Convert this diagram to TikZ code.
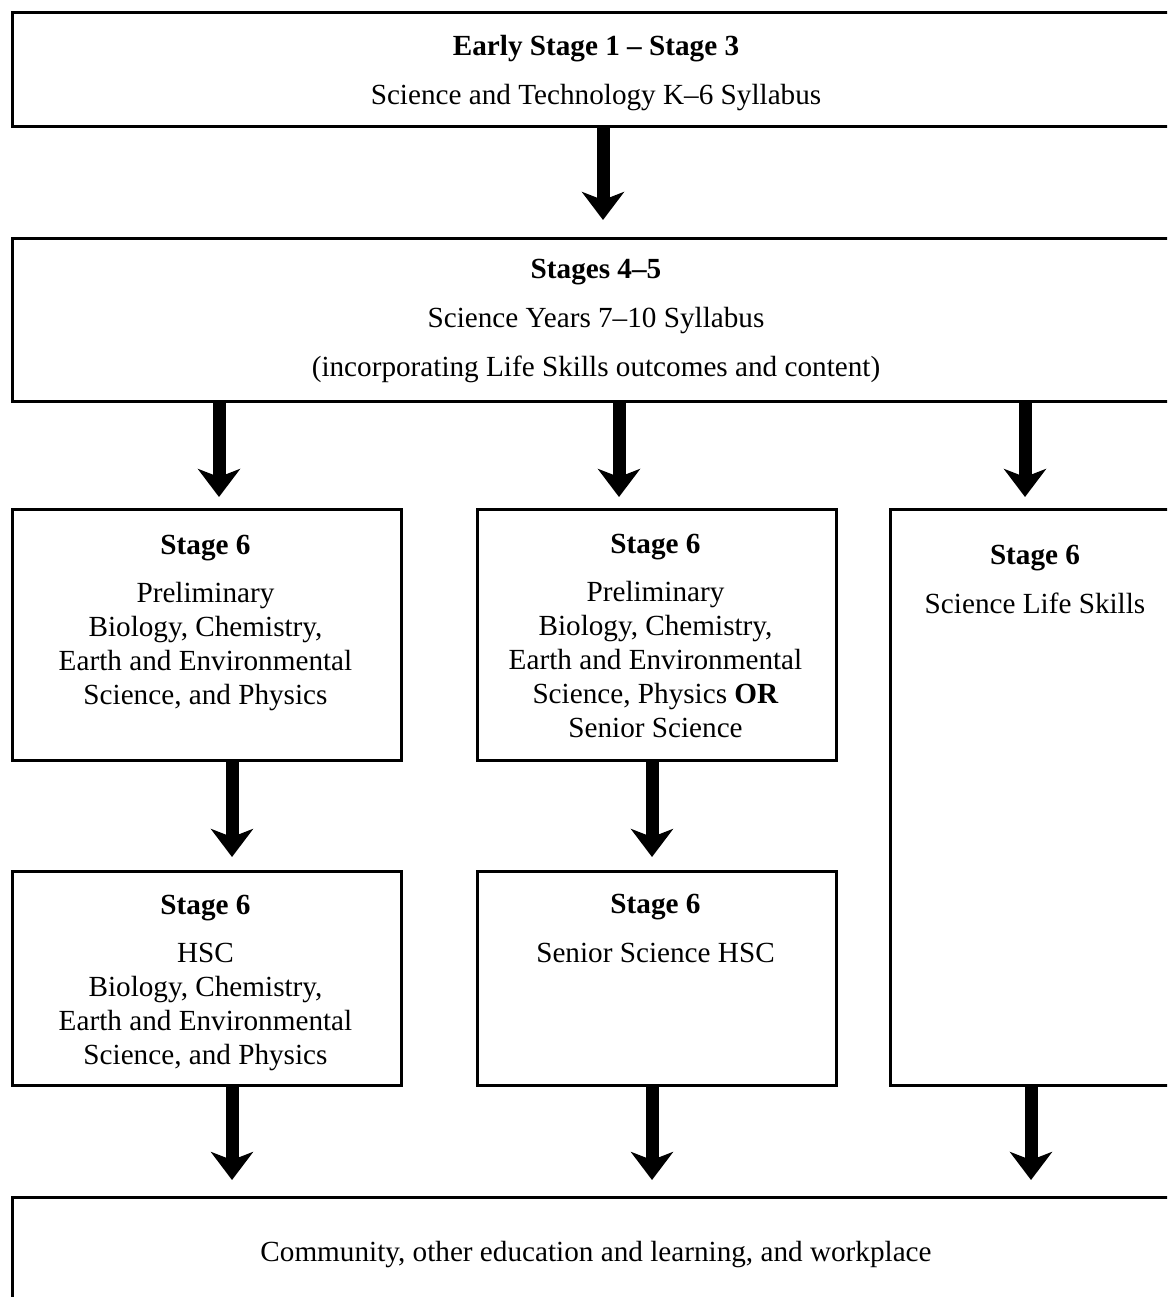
\documentclass[tikz,border=0pt]{standalone}
\usepackage{fontspec}
\setmainfont{Liberation Serif}
\usetikzlibrary{arrows.meta}
\begin{document}
\begin{tikzpicture}[x=1pt,y=-1pt,
  box/.style={draw, line width=2.8pt, inner sep=0pt},
  txt/.style={align=center, inner sep=0pt, font=\fontsize{29.2}{34}\selectfont},
  arr/.style={line width=13pt, -{Stealth[length=28pt, width=42pt, inset=8pt]}}]
\useasboundingbox (0,0) rectangle (1167,1297);
\clip (0,0) rectangle (1167,1297);
% boxes
\node[box, minimum width=1170pt, minimum height=114pt, anchor=north west] (b1) at (11,11) {};
\node[box, minimum width=1170pt, minimum height=163pt, anchor=north west] (b2) at (11,237) {};
\node[box, minimum width=389pt, minimum height=251pt, anchor=north west] (b3l) at (11,508) {};
\node[box, minimum width=359pt, minimum height=251pt, anchor=north west] (b3m) at (476,508) {};
\node[box, minimum width=292pt, minimum height=576pt, anchor=north west] (b3r) at (889,508) {};
\node[box, minimum width=389pt, minimum height=214pt, anchor=north west] (b4l) at (11,870) {};
\node[box, minimum width=359pt, minimum height=214pt, anchor=north west] (b4m) at (476,870) {};
\node[box, minimum width=1170pt, minimum height=120pt, anchor=north west] (b5) at (11,1196) {};
% texts (anchor=base is the baseline of the last line)
\node[txt, anchor=base] (t1) at (596,105) {\textbf{Early Stage 1 – Stage 3}\\[15pt]Science and Technology K–6 Syllabus};
\node[txt, anchor=base] (t2) at (596,376) {\textbf{Stages 4–5}\\[15pt]Science Years 7–10 Syllabus\\[15pt](incorporating Life Skills outcomes and content)};
\node[txt, anchor=base] (t3l) at (205.5,704) {\textbf{Stage 6}\\[14pt]Preliminary\\Biology, Chemistry,\\Earth and Environmental\\Science, and Physics};
\node[txt, anchor=base] (t3m) at (655.5,737) {\textbf{Stage 6}\\[14pt]Preliminary\\Biology, Chemistry,\\Earth and Environmental\\Science, Physics \textbf{OR}\\Senior Science};
\node[txt, anchor=base] (t3r) at (1035,613) {\textbf{Stage 6}\\[15pt]Science Life Skills};
\node[txt, anchor=base] (t4l) at (205.5,1064) {\textbf{Stage 6}\\[14pt]HSC\\Biology, Chemistry,\\Earth and Environmental\\Science, and Physics};
\node[txt, anchor=base] (t4m) at (655.5,962) {\textbf{Stage 6}\\[15pt]Senior Science HSC};
\node[txt, anchor=base] (t5) at (596,1261) {Community, other education and learning, and workplace};
% arrow x positions
\coordinate (xa) at (603,0);
\coordinate (xl2) at (219,0);
\coordinate (xm2) at (619,0);
\coordinate (xr2) at (1025,0);
\coordinate (xl3) at (232,0);
\coordinate (xm3) at (652,0);
\coordinate (xr4) at (1031,0);
% arrows
\draw[arr] (b1.south -| xa) -- ([yshift=17pt]b2.north -| xa);
\draw[arr] (b2.south -| xl2) -- ([yshift=11pt]b3l.north -| xl2);
\draw[arr] (b2.south -| xm2) -- ([yshift=11pt]b3m.north -| xm2);
\draw[arr] (b2.south -| xr2) -- ([yshift=11pt]b3r.north -| xr2);
\draw[arr] (b3l.south -| xl3) -- ([yshift=13pt]b4l.north -| xl3);
\draw[arr] (b3m.south -| xm3) -- ([yshift=13pt]b4m.north -| xm3);
\draw[arr] (b4l.south -| xl3) -- ([yshift=16pt]b5.north -| xl3);
\draw[arr] (b4m.south -| xm3) -- ([yshift=16pt]b5.north -| xm3);
\draw[arr] (b3r.south -| xr4) -- ([yshift=16pt]b5.north -| xr4);
\end{tikzpicture}
\end{document}
